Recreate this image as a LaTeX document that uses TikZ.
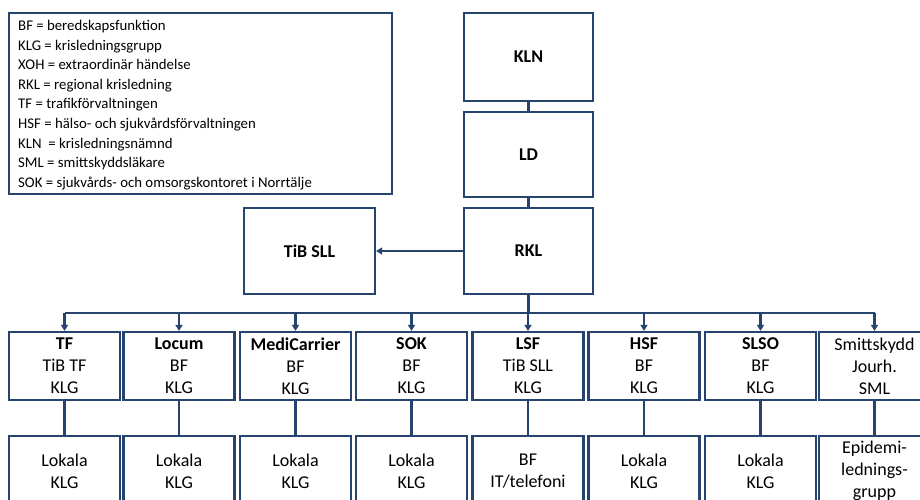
\documentclass[tikz,border=0pt]{standalone}
\usepackage{fontspec}
\setmainfont{Carlito}
\usetikzlibrary{arrows.meta}
\definecolor{navy}{RGB}{38,68,110}
\begin{document}
\begin{tikzpicture}[x=1pt,y=-1pt,
  box/.style={draw=navy,line width=2.2pt,rectangle,inner sep=0pt,align=center,
    font=\fontsize{18}{22}\selectfont},
  top/.style={box,minimum width=129pt,minimum height=87pt},
  mid/.style={box,minimum width=111pt,minimum height=68pt},
  low/.style={box,minimum width=111pt,minimum height=70pt},
  conn/.style={draw=navy,line width=2.2pt},
  arr/.style={conn,-{Triangle[length=6pt,width=7pt]}},
  legline/.style={anchor=base west,inner sep=0pt,font=\fontsize{14.8}{19.5}\selectfont}]
\useasboundingbox (0,0) rectangle (920,500);
\clip (0,0) rectangle (920,500);
\fill[white] (0,0) rectangle (920,500);

% legend
\node[box,minimum width=383pt,minimum height=181pt] (legend) at (200.5,103.5) {};
\foreach \t [count=\i from 0] in {BF = beredskapsfunktion,KLG = krisledningsgrupp,XOH = extraordinär händelse,RKL = regional krisledning,TF = trafikförvaltningen,HSF = hälso- och sjukvårdsförvaltningen,KLN\ \ = krisledningsnämnd,SML = smittskyddsläkare,SOK = sjukvårds- och omsorgskontoret i Norrtälje}
  \node[legline] (leg\i) at (18,{31+19.5*\i}) {\t};

% top hierarchy
\node[top,minimum height=88pt] (KLN) at (528.5,57) {\textbf{KLN}};
\node[top,minimum height=85pt] (LD) at (528.5,154.5) {\textbf{LD}};
\node[top,minimum height=86pt] (RKL) at (528.5,251) {\textbf{RKL}};
\node[box,minimum width=131pt,minimum height=86pt] (TiB) at (309.5,251) {\textbf{TiB SLL}};

\draw[conn] (KLN.south) -- (LD.north);
\draw[conn] (LD.south) -- (RKL.north);
\draw[arr] (RKL.west) -- (TiB.east);

% second row
\node[mid] (TF) at (64.5,366) {\textbf{TF}\\TiB TF\\KLG};
\node[mid] (Locum) at (179,366) {\textbf{Locum}\\BF\\KLG};
\node[mid] (Medi) at (295.5,366) {\textbf{MediCarrier}\\BF\\KLG};
\node[mid] (SOK) at (411.5,366) {\textbf{SOK}\\BF\\KLG};
\node[mid] (LSF) at (528,366) {\textbf{LSF}\\TiB SLL\\KLG};
\node[mid] (HSF) at (644,366) {\textbf{HSF}\\BF\\KLG};
\node[mid] (SLSO) at (760.5,366) {\textbf{SLSO}\\BF\\KLG};
\node[mid] (Smitt) at (874.5,366) {Smittskydd\\Jourh.\\SML};

% third row
\node[low] (TFl) at (64.5,471) {Lokala\\KLG};
\node[low] (Locuml) at (179,471) {Lokala\\KLG};
\node[low] (Medil) at (295.5,471) {Lokala\\KLG};
\node[low] (SOKl) at (411.5,471) {Lokala\\KLG};
\node[low] (LSFl) at (528,471) {BF\\IT/telefoni};
\node[low] (HSFl) at (644,471) {Lokala\\KLG};
\node[low] (SLSOl) at (760.5,471) {Lokala\\KLG};
\node[low] (Smittl) at (874.5,471) {Epidemi-\\lednings-\\grupp};

% bus
\coordinate (bus) at (0,313);
\draw[conn] (RKL.south) -- (RKL.south |- bus);
\draw[conn] (TF.north |- bus) -- (Smitt.north |- bus);
\foreach \n in {TF,Locum,Medi,SOK,LSF,HSF,SLSO,Smitt}{
  \draw[arr] (\n.north |- bus) -- (\n.north);
  \draw[conn] (\n.south) -- (\n l.north);
}
\end{tikzpicture}
\end{document}
